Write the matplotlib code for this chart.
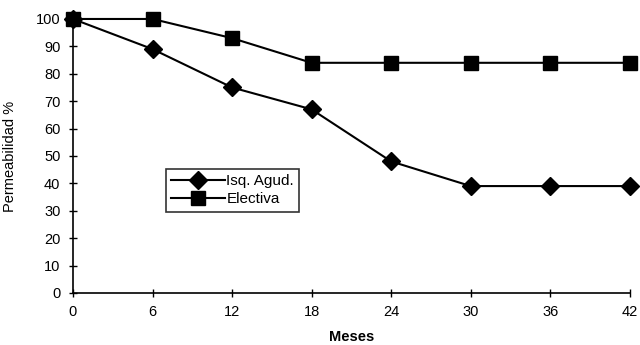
import matplotlib
matplotlib.use("Agg")
import matplotlib.pyplot as plt

# Data
meses = [0, 6, 12, 18, 24, 30, 36, 42]
isq_agud = [100, 89, 75, 67, 48, 39, 39, 39]
electiva = [100, 100, 93, 84, 84, 84, 84, 84]

plt.rcParams["font.family"] = ["Liberation Sans", "DejaVu Sans"]

fig = plt.figure(figsize=(6.4, 3.45), dpi=100)
ax = fig.add_axes([0.114, 0.151, 0.870, 0.794])

ax.plot(meses, isq_agud, color="black", lw=1.5, marker="D", ms=9,
        label="Isq. Agud.", clip_on=False, zorder=3)
ax.plot(meses, electiva, color="black", lw=1.5, marker="s", ms=10,
        label="Electiva", clip_on=False, zorder=3)

ax.set_xlim(0, 42)
ax.set_ylim(0, 100)
ax.set_xticks(meses)
ax.set_yticks(range(0, 101, 10))
ax.tick_params(direction="inout", length=6, width=1, labelsize=10.5, pad=6)
ax.spines["top"].set_visible(False)
ax.spines["right"].set_visible(False)
ax.spines["left"].set_linewidth(1.2)
ax.spines["bottom"].set_linewidth(1.2)

ax.set_xlabel("Meses", fontsize=10.5, fontweight="bold")
ax.set_ylabel("Permeabilidad %", fontsize=10.5)
ax.yaxis.set_label_coords(-0.101, 0.5)
ax.xaxis.set_label_coords(0.5, -0.135)

leg = ax.legend(loc="upper left", bbox_to_anchor=(0.167, 0.452), fontsize=11,
                frameon=True, fancybox=False, edgecolor="black",
                handlelength=3.5, borderpad=0.35, labelspacing=0.25,
                handletextpad=0.1, borderaxespad=0)
leg.get_frame().set_linewidth(1.2)

fig.savefig("out.png", dpi=100)
